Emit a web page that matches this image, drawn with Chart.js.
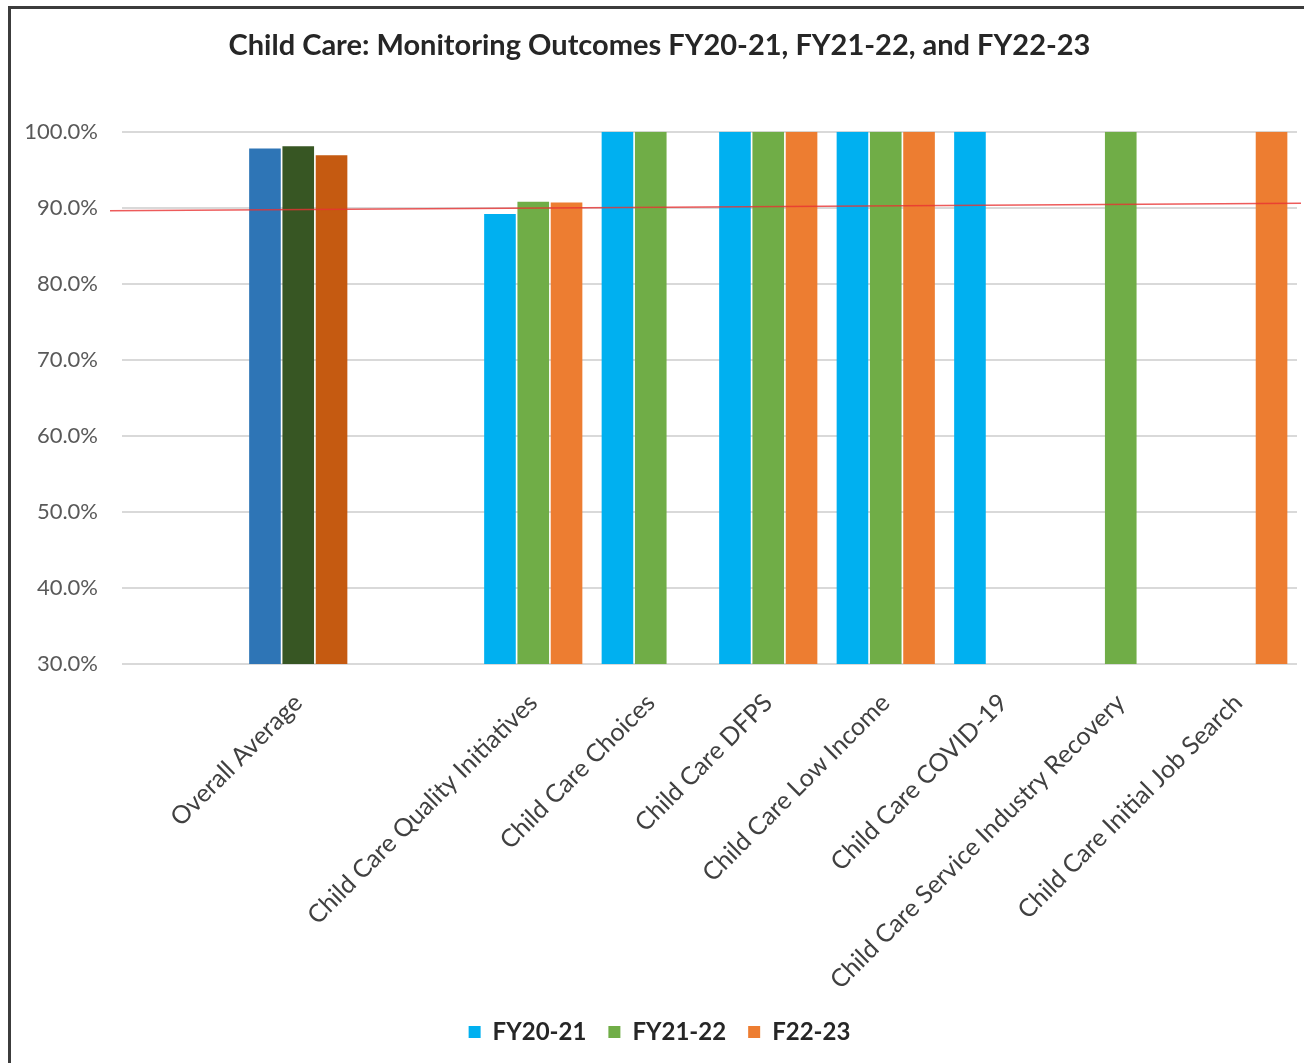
<!DOCTYPE html>
<html>
<head>
<meta charset="utf-8">
<script src="https://cdn.jsdelivr.net/npm/chart.js@4"></script>
<style>
  body { margin: 0; background: #fff; }
  #frame { position: absolute; left: 8px; top: 6px; width: 1400px; height: 1200px; border: 3px solid #3c3c3c; }
  #wrap { position: absolute; left: 0; top: 0; width: 1304px; height: 1063px; }
</style>
</head>
<body>
<div id="frame"></div>
<div id="wrap"><canvas id="outcomeChart"></canvas></div>
<script>
const categories = ['', 'Overall Average', '', 'Child Care Quality Initiatives', 'Child Care Choices',
  'Child Care DFPS', 'Child Care Low Income', 'Child Care COVID-19',
  'Child Care Service Industry Recovery', 'Child Care Initial Job Search'];
const fy2021 = [null, 97.8, null, 89.2, 100, 100, 100, 100, null, null];
const fy2122 = [null, 98.1, null, 90.8, 100, 100, 100, null, 100, null];
const fy2223 = [null, 96.9, null, 90.7, null, 100, 100, null, null, 100];
const targetLine = [89.6, 90.6]; // red reference line, left end and right end
const yTicks = [30, 40, 50, 60, 70, 80, 90, 100];

// the average group uses darker shades
const shade = (light, dark) => c => (c.dataIndex === 1 ? dark : light);

const targetPlugin = {
  id: 'target',
  afterDatasetsDraw(chart) {
    const { ctx, chartArea, scales } = chart;
    ctx.save();
    ctx.strokeStyle = 'rgba(232, 50, 50, 0.8)';
    ctx.lineWidth = 1.5;
    ctx.beginPath();
    ctx.moveTo(chartArea.left - 12, scales.y.getPixelForValue(targetLine[0]));
    ctx.lineTo(chartArea.right + 4, scales.y.getPixelForValue(targetLine[1]));
    ctx.stroke();
    ctx.restore();
  }
};

const ctx = document.getElementById('outcomeChart').getContext('2d');
new Chart(ctx, {
  type: 'bar',
  data: {
    labels: categories,
    datasets: [
      { label: 'FY20-21', data: fy2021, backgroundColor: shade('#00B0F0', '#2E75B6') },
      { label: 'FY21-22', data: fy2122, backgroundColor: shade('#70AD47', '#375623') },
      { label: 'F22-23', data: fy2223, backgroundColor: shade('#ED7D31', '#C55A11') }
    ]
  },
  options: {
    responsive: true,
    maintainAspectRatio: false,
    animation: false,
    categoryPercentage: 0.85,
    barPercentage: 0.95,
    layout: { padding: { top: 20, right: 7, bottom: 9, left: 22 } },
    plugins: {
      title: {
        display: true,
        text: 'Child Care: Monitoring Outcomes FY20-21, FY21-22, and FY22-23',
        color: '#262626',
        font: { family: 'Lato', size: 29, weight: 'bold' },
        padding: { top: 8, bottom: 69 }
      },
      legend: {
        position: 'bottom',
        labels: {
          color: '#262626',
          boxWidth: 12,
          boxHeight: 12,
          padding: 22,
          font: { family: 'Lato', size: 24, weight: 'bold' }
        }
      },
      tooltip: { enabled: false }
    },
    scales: {
      x: {
        grid: { display: false, drawTicks: false },
        border: { display: false },
        ticks: {
          color: '#404040',
          font: { family: 'Lato', size: 25 },
          minRotation: 45,
          maxRotation: 45,
          padding: 24,
          autoSkip: false
        },
        afterFit: s => { s.height = 334; }
      },
      y: {
        min: 30,
        max: 100,
        afterBuildTicks: s => { s.ticks = yTicks.map(v => ({ value: v })); },
        grid: { color: '#d9d9d9', lineWidth: 2, drawTicks: false },
        border: { display: false },
        ticks: {
          color: '#595959',
          font: { family: 'Lato', size: 22 },
          padding: 24,
          callback: v => v.toFixed(1) + '%'
        },
        afterFit: s => { s.width = 100; }
      }
    }
  },
  plugins: [targetPlugin]
});
</script>
</body>
</html>
